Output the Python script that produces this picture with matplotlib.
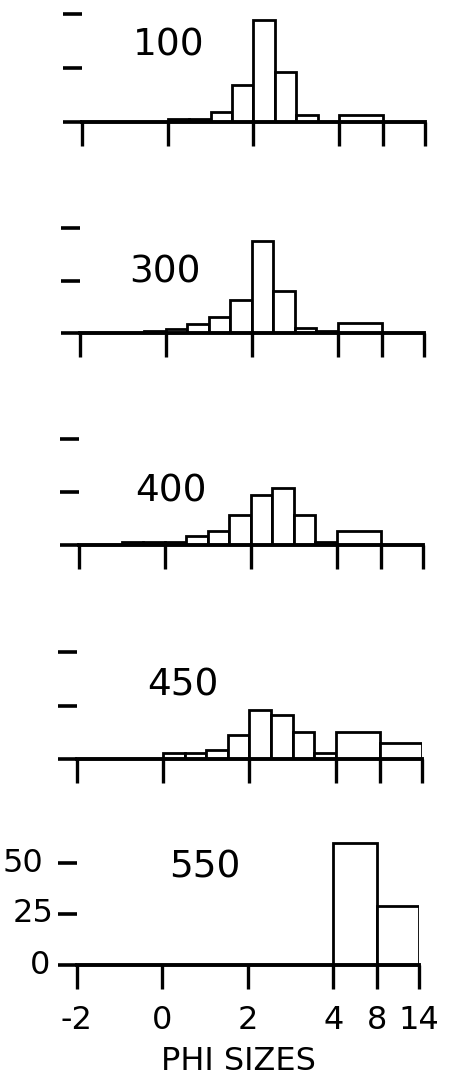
import numpy as np
import matplotlib
matplotlib.use("Agg")
import matplotlib.pyplot as plt

# phi size classes and where they sit along the (non linear) x axis
phi_ticks = [-2, 0, 2, 4, 8, 14]
tick_labels = ['-2', '0', '2', '4', '8', '14']
tick_pos = [0, 0.25, 0.5, 0.75, 0.877, 1.0]

# percent per phi class for each sample depth
depths = ['100', '300', '400', '450', '550']

edges_100 = [0, 0.5, 1.0, 1.5, 2.0, 2.5, 3.0, 3.5, 4, 8]
pct_100 = [1.5, 1.5, 4.4, 17, 47, 23, 3.4, 0, 3.4]

edges_300 = [-0.5, 0, 0.5, 1.0, 1.5, 2.0, 2.5, 3.0, 3.5, 4, 8]
pct_300 = [1.0, 2.0, 4.3, 7.6, 15.7, 43.8, 20, 2.5, 1.0, 5.0]

edges_400 = [-1.0, -0.5, 0, 0.5, 1.0, 1.5, 2.0, 2.5, 3.0, 3.5, 4, 8]
pct_400 = [1.2, 1.2, 1.5, 4.2, 6.6, 14.2, 23.6, 26.9, 14.2, 1.5, 6.5]

edges_450 = [0, 0.5, 1.0, 1.5, 2.0, 2.5, 3.0, 3.5, 4, 8, 14]
pct_450 = [2.8, 2.8, 4.2, 11.2, 22.9, 20.6, 12.6, 2.8, 12.6, 7.5]

edges_550 = [4, 8, 14]
pct_550 = [60, 29]

edges = [edges_100, edges_300, edges_400, edges_450, edges_550]
pcts = [pct_100, pct_300, pct_400, pct_450, pct_550]

W, H = 452, 1081
# pixel layout of each panel: left, right, baseline y, y of the 50 tick
boxes = [(82, 425, 122, 14),
         (80, 424, 333, 228),
         (79, 423, 545, 439),
         (77, 422, 759, 652),
         (77, 419, 965, 863)]
label_xy = [(169, 45), (165, 272), (171, 491), (183, 686), (205, 867)]

fnt = 'DejaVu Sans'
fig = plt.figure(figsize=(W / 100, H / 100), dpi=100)

for i in range(5):
    left, right, base, y50 = boxes[i]
    ymax = 66
    pxu = (base - y50) / 50.0
    ax = fig.add_axes([left / W, 1 - base / H, (right - left) / W, ymax * pxu / H])

    e = np.interp(edges[i], phi_ticks, tick_pos)
    ax.bar(e[:-1], pcts[i], width=np.diff(e), align='edge',
           facecolor='white', edgecolor='black', linewidth=2.0, zorder=2)

    ax.set_xlim(0, 1)
    ax.set_ylim(0, ymax)
    for s in ['top', 'right', 'left']:
        ax.spines[s].set_visible(False)
    ax.spines['bottom'].set_linewidth(2.8)
    ax.spines['bottom'].set_zorder(3)

    ax.set_xticks(tick_pos)
    ax.set_yticks([0, 25, 50])
    ax.tick_params(axis='x', direction='out', length=17, width=2.4, pad=12)
    ax.tick_params(axis='y', direction='out', length=14, width=2.6)
    ax.set_yticklabels([])
    if i == 4:
        ax.set_xticklabels(tick_labels, fontsize=23, family=fnt)
        for yv, xa in [(0, -0.079), (25, -0.07), (50, -0.1)]:
            ax.text(xa, yv, str(yv), transform=ax.get_yaxis_transform(),
                    ha='right', va='center', fontsize=23, family=fnt)
    else:
        ax.set_xticklabels([])

    fig.text(label_xy[i][0] / W, 1 - label_xy[i][1] / H, depths[i],
             ha='center', va='center', fontsize=27, family=fnt)

fig.text(238 / W, 1 - 1062 / H, 'PHI SIZES', ha='center', va='center',
         fontsize=23, family=fnt)

fig.savefig('out.png', dpi=100)
